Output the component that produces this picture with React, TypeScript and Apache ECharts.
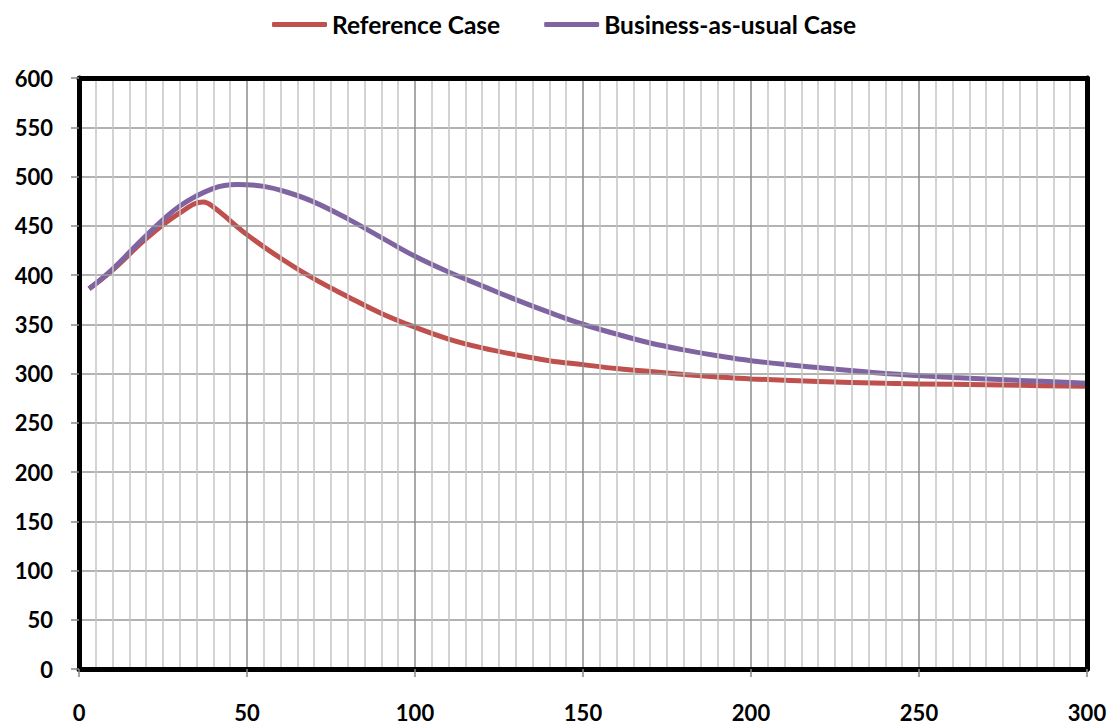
import React, { useEffect, useRef } from "react";
import * as echarts from "echarts";

const seriesNames = ["Reference Case", "Business-as-usual Case"];

const refX = [3, 10, 20, 30, 37, 40, 50, 60, 70, 80, 90, 100, 110, 120, 130, 140, 150, 160, 170, 180, 190, 200, 220, 240, 260, 280, 300];
const refY = [386, 405, 437, 463, 474, 469, 441, 417, 396, 378, 361, 347, 335, 326, 319, 313, 309, 305, 302, 299, 296.5, 294.5, 292, 290, 289, 288, 287];

const bauX = [3, 10, 20, 30, 40, 47, 55, 62, 70, 80, 90, 100, 110, 120, 130, 140, 150, 160, 170, 180, 190, 200, 220, 240, 260, 280, 300];
const bauY = [386, 406, 440, 470, 488, 492, 490, 484, 474, 457, 438, 419, 403, 389, 375, 362, 350, 340, 331, 324, 318, 313, 306, 300, 296, 293, 290];

const colors = ["#c0504d", "#8064a2"];

const FONT = "Lato";

export default function App() {
  const ref = useRef<HTMLDivElement>(null);
  useEffect(() => {
    if (!ref.current) return;
    const chart = echarts.init(ref.current, undefined, { renderer: "svg" });
    const pairs = (xs: number[], ys: number[]) => xs.map((x, i) => [x, ys[i]]);
    const labelStyle = { fontFamily: FONT, fontWeight: "bold", fontSize: 22, color: "#000" };
    const frameAxis = {
      type: "value",
      axisLine: { show: true, onZero: false, lineStyle: { color: "#000", width: 5 } },
      axisTick: { show: false },
      axisLabel: { show: false },
      splitLine: { show: false },
    };
    chart.setOption({
      animation: false,
      legend: {
        top: 7,
        left: 267,
        itemWidth: 55,
        itemHeight: 5,
        itemGap: 44,
        icon: "roundRect",
        textStyle: { fontFamily: FONT, fontWeight: "bold", fontSize: 24.5, color: "#000" },
        data: seriesNames,
      },
      grid: {
        left: 79,
        right: 25,
        top: 78,
        bottom: 57,
        show: false,
      },
      xAxis: [
        {
          type: "value",
          min: 0,
          max: 300,
          interval: 50,
          axisLine: { show: true, onZero: false, lineStyle: { color: "#000", width: 5 } },
          axisTick: { show: true, length: 8, lineStyle: { color: "#888", width: 1.5 } },
          axisLabel: { ...labelStyle, margin: 32 },
          splitLine: { show: true, lineStyle: { color: "#8c8c8c", width: 1.5 } },
          minorTick: { show: false, splitNumber: 10 },
          minorSplitLine: { show: true, lineStyle: { color: "#c4c4c4", width: 1.5 } },
          z: 5,
        },
        { ...frameAxis, position: "top", min: 0, max: 300, z: 5 },
      ],
      yAxis: [
        {
          type: "value",
          min: 0,
          max: 600,
          interval: 50,
          axisLine: { show: true, onZero: false, lineStyle: { color: "#000", width: 5 } },
          axisTick: { show: true, length: 8, lineStyle: { color: "#888", width: 1.5 } },
          axisLabel: { ...labelStyle, margin: 26 },
          splitLine: { show: true, lineStyle: { color: "#999", width: 1.5 } },
          z: 5,
        },
        { ...frameAxis, position: "right", min: 0, max: 600, z: 5 },
      ],
      series: [
        {
          name: seriesNames[0],
          type: "line",
          data: pairs(refX, refY),
          smooth: 0.4,
          showSymbol: false,
          symbol: "none",
          lineStyle: { color: colors[0], width: 5 },
          itemStyle: { color: colors[0] },
          z: 3,
        },
        {
          name: seriesNames[1],
          type: "line",
          data: pairs(bauX, bauY),
          smooth: 0.4,
          showSymbol: false,
          symbol: "none",
          lineStyle: { color: colors[1], width: 5 },
          itemStyle: { color: colors[1] },
          z: 4,
        },
      ],
    });
    return () => chart.dispose();
  }, []);
  return (
    <div
      ref={ref}
      style={{ position: "fixed", left: 0, top: 0, width: 1112, height: 726, background: "#fff" }}
    />
  );
}
